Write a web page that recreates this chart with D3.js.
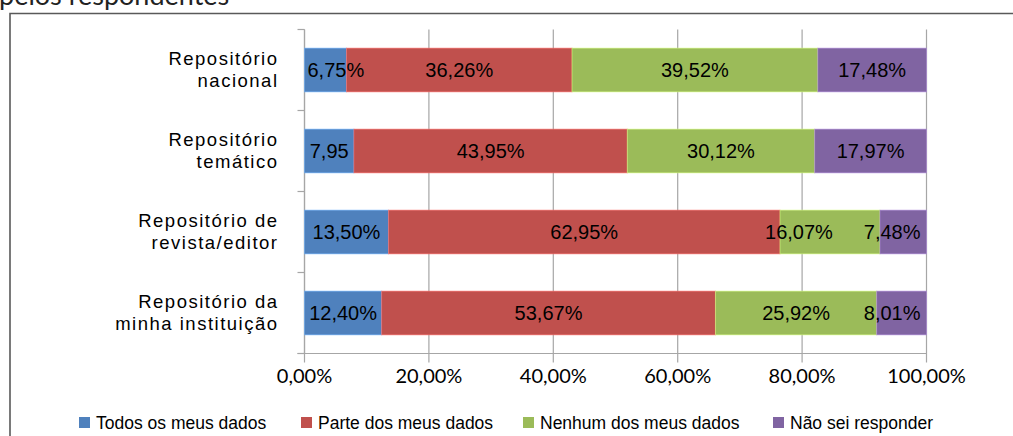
<!DOCTYPE html>
<html>
<head>
<meta charset="utf-8">
<script src="https://cdn.jsdelivr.net/npm/d3@7"></script>
<style>
  body { margin: 0; background: #fff; }
  svg { display: block; }
</style>
</head>
<body>
<svg id="chart"></svg>
<script>
const categories = [
  ["Repositório", "nacional"],
  ["Repositório", "temático"],
  ["Repositório de", "revista/editor"],
  ["Repositório da", "minha instituição"]
];
const seriesNames = ["Todos os meus dados", "Parte dos meus dados", "Nenhum dos meus dados", "Não sei responder"];
const todos = [6.75, 7.95, 13.50, 12.40];
const parte = [36.26, 43.95, 62.95, 53.67];
const nenhum = [39.52, 30.12, 16.07, 25.92];
const naoSei = [17.48, 17.97, 7.48, 8.01];
const labelText = [
  ["6,75%", "7,95", "13,50%", "12,40%"],
  ["36,26%", "43,95%", "62,95%", "53,67%"],
  ["39,52%", "30,12%", "16,07%", "25,92%"],
  ["17,48%", "17,97%", "7,48%", "8,01%"]
];
const xTicks = [0, 20, 40, 60, 80, 100];

const colors = ["#4f81bd", "#c0504d", "#9bbb59", "#8064a2"];
const width = 1013, height = 436;
const plot = { left: 304.5, right: 926.5, top: 29.5, bottom: 353.5 };

const locale = d3.formatLocale({ decimal: ",", thousands: ".", grouping: [3], currency: ["", ""] });
const fmt = v => locale.format(".2f")(v) + "%";

const svg = d3.select("#chart").attr("width", width).attr("height", height);

// partly cut title line above the frame
svg.append("text")
  .attr("x", -1).attr("y", 5)
  .style("font-family", "Lato, 'Open Sans', sans-serif")
  .style("font-size", "27px")
  .attr("fill", "#222")
  .text("pelos respondentes");

// chart frame
svg.append("path")
  .attr("d", `M10,${height + 2}V13.5H${width + 2}`)
  .attr("fill", "none")
  .attr("stroke", "#595959")
  .attr("stroke-width", 1.6);

const x = d3.scaleLinear().domain([0, 100]).range([plot.left, plot.right]);
const y = d3.scaleBand()
  .domain(d3.range(categories.length))
  .range([plot.top, plot.bottom])
  .paddingInner(0.46)
  .paddingOuter(0.23);

const grid = "#a6a6a6";

// vertical gridlines + ticks below axis
svg.append("g")
  .selectAll("line")
  .data(xTicks)
  .join("line")
  .attr("x1", d => x(d)).attr("x2", d => x(d))
  .attr("y1", plot.top).attr("y2", plot.bottom + 9)
  .attr("stroke", grid).attr("stroke-width", 1.2);

// y axis with category separators
const bounds = d3.range(categories.length + 1).map(i => plot.top + i * y.step());
svg.append("line")
  .attr("x1", plot.left).attr("x2", plot.left)
  .attr("y1", plot.top).attr("y2", plot.bottom)
  .attr("stroke", grid).attr("stroke-width", 1.2);
svg.append("g")
  .selectAll("line")
  .data(bounds)
  .join("line")
  .attr("x1", plot.left - 7).attr("x2", plot.left)
  .attr("y1", d => d).attr("y2", d => d)
  .attr("stroke", grid).attr("stroke-width", 1.2);

// x axis line
svg.append("line")
  .attr("x1", plot.left - 7).attr("x2", plot.right)
  .attr("y1", plot.bottom).attr("y2", plot.bottom)
  .attr("stroke", grid).attr("stroke-width", 1.2);

// stacked bars
const values = [todos, parte, nenhum, naoSei];
const table = categories.map((c, i) => {
  const row = { i };
  seriesNames.forEach((s, k) => row[s] = values[k][i]);
  return row;
});
const stacked = d3.stack().keys(seriesNames)(table);

const barG = svg.append("g");
stacked.forEach((layer, k) => {
  barG.append("g")
    .selectAll("rect")
    .data(layer)
    .join("rect")
    .attr("x", d => x(d[0]))
    .attr("width", d => Math.min(x(d[1]), plot.right) - x(d[0]))
    .attr("y", (d, i) => y(i))
    .attr("height", y.bandwidth())
    .attr("fill", colors[k])
    .attr("stroke", d3.color(colors[k]).brighter(0.9))
    .attr("stroke-opacity", 0.55)
    .attr("stroke-width", 1);
});

// data labels (one label was dragged left in the original)
const labelNudge = { "2-2": -31 };
const labG = svg.append("g")
  .style("font-family", "'Liberation Sans', Arial, sans-serif")
  .style("font-size", "20px")
  .attr("fill", "#000");
stacked.forEach((layer, k) => {
  layer.forEach((d, i) => {
    const cx = (x(d[0]) + Math.min(x(d[1]), plot.right)) / 2;
    const t = labG.append("text")
      .attr("y", y(i) + y.bandwidth() / 2)
      .attr("dy", "0.36em")
      .attr("text-anchor", "middle")
      .text(labelText[k][i]);
    const w = t.node().getComputedTextLength();
    let px = cx + (labelNudge[`${k}-${i}`] || 0);
    px = Math.max(px, plot.left + 3 + w / 2);
    px = Math.min(px, plot.right - 6 - w / 2);
    t.attr("x", px);
  });
});

// x tick labels
svg.append("g")
  .selectAll("text")
  .data(xTicks)
  .join("text")
  .attr("x", d => x(d))
  .attr("y", 383)
  .attr("text-anchor", "middle")
  .style("font-family", "Lato, 'Open Sans', sans-serif")
  .style("font-size", "20px")
  .attr("fill", "#000")
  .text(d => fmt(d));

// category labels
const catG = svg.append("g")
  .style("font-family", "'Liberation Sans', Arial, sans-serif")
  .style("font-size", "18.5px")
  .style("letter-spacing", "1.5px")
  .attr("fill", "#000");
categories.forEach((lines, i) => {
  const cy = y(i) + y.bandwidth() / 2;
  const t = catG.append("text")
    .attr("text-anchor", "end");
  lines.forEach((ln, j) => {
    t.append("tspan")
      .attr("x", 278.5)
      .attr("y", cy - 5 + j * 22)
      .text(ln);
  });
});

// legend
const legendX = [79, 301, 523, 773];
const leg = svg.append("g")
  .style("font-family", "'Liberation Sans', Arial, sans-serif")
  .style("font-size", "17.5px");
seriesNames.forEach((s, k) => {
  leg.append("rect")
    .attr("x", legendX[k]).attr("y", 417)
    .attr("width", 11).attr("height", 11)
    .attr("fill", colors[k]);
  leg.append("text")
    .attr("x", legendX[k] + 17).attr("y", 428.5)
    .attr("fill", "#000")
    .text(s);
});
</script>
</body>
</html>
